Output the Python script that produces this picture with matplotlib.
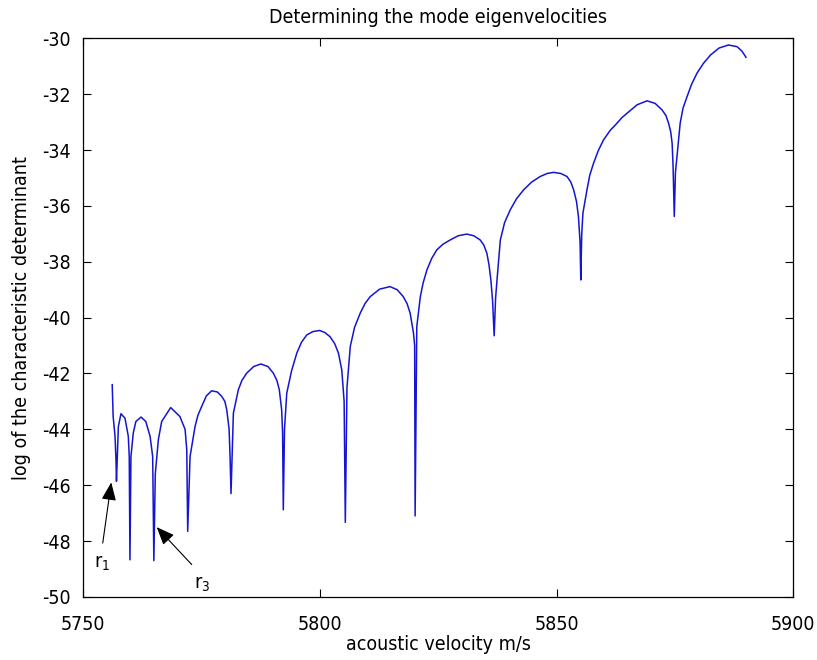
import matplotlib
matplotlib.use("Agg")
import matplotlib.pyplot as plt

# curve (acoustic velocity m/s, log of determinant), one row per arc
velocity = [5756.1, 5756.3, 5756.7, 5756.9, 5757.0,
            5757.4, 5757.95, 5758.8, 5759.5, 5759.7, 5759.85,
            5760.06, 5760.55, 5761.1, 5762.2, 5763.2, 5764.1, 5764.65, 5764.9,
            5765.2, 5765.85, 5766.55, 5768.45, 5770.4, 5771.5, 5771.85, 5772.05,
            5772.55, 5773.6, 5774.2, 5775.0, 5776.0, 5777.1, 5778.3, 5779.25, 5779.9, 5780.3, 5780.8, 5781.0, 5781.2,
            5781.5, 5781.7, 5782.75, 5783.5, 5784.5, 5786.0, 5787.5, 5789.0, 5790.15, 5790.9, 5791.4, 5791.9, 5792.1, 5792.25,
            5792.5, 5792.98, 5794.0, 5795.1, 5796.1, 5797.2, 5798.5, 5799.9, 5801.0, 5802.1, 5803.1, 5803.9, 5804.6, 5805.1, 5805.35,
            5805.7, 5806.4, 5807.3, 5808.5, 5809.5, 5810.6, 5812.6, 5814.8, 5816.3, 5817.6, 5818.4, 5819.05, 5819.75, 5820.0, 5820.1,
            5820.45, 5821.2, 5821.8, 5822.6, 5823.6, 5824.7, 5826.0, 5827.5, 5829.2, 5831.0, 5832.5, 5833.85, 5834.6, 5835.25,
            5835.7, 5836.1, 5836.45, 5836.8,
            5837.1, 5837.4, 5838.1, 5839.0, 5840.2, 5841.5, 5843.0, 5844.7, 5846.5, 5848.0, 5849.35, 5850.9, 5852.2, 5853.0,
            5853.6, 5854.2, 5854.6, 5854.95, 5855.1,
            5855.3, 5855.55, 5856.4, 5857.0, 5857.8, 5858.8, 5859.9, 5861.3, 5862.75, 5863.8, 5864.9, 5867.0, 5869.1, 5870.8,
            5872.3, 5873.1, 5873.65, 5874.1, 5874.4, 5874.6, 5874.85,
            5875.1, 5875.55, 5876.1, 5876.7, 5877.55, 5878.5, 5879.65, 5881.0, 5882.5, 5884.3, 5886.3, 5888.1, 5889.1, 5890.0]
log_det = [-42.4, -43.54, -44.25, -45.1, -45.86,
           -43.9, -43.44, -43.6, -44.25, -44.97, -48.67,
           -44.97, -44.13, -43.72, -43.56, -43.72, -44.25, -44.97, -48.7,
           -45.6, -44.37, -43.72, -43.22, -43.54, -44.0, -44.73, -47.65,
           -44.97, -43.9, -43.5, -43.18, -42.8, -42.62, -42.66, -42.82, -43.0, -43.3, -44.0, -44.97, -46.3,
           -44.6, -43.42, -42.58, -42.25, -41.99, -41.75, -41.66, -41.75, -41.99, -42.25, -42.58, -43.3, -44.13, -46.88,
           -44.0, -42.70, -41.9, -41.27, -40.88, -40.62, -40.5, -40.46, -40.53, -40.68, -40.93, -41.27, -41.87, -43.0, -47.33,
           -42.5, -41.03, -40.35, -39.84, -39.5, -39.25, -38.98, -38.89, -39.0, -39.25, -39.5, -39.84, -40.55, -41.0, -47.1,
           -40.32, -39.25, -38.75, -38.29, -37.88, -37.57, -37.37, -37.22, -37.07, -37.01, -37.07, -37.22, -37.4, -37.69,
           -38.1, -38.65, -39.36, -40.65,
           -39.3, -38.65, -37.22, -36.6, -36.14, -35.75, -35.43, -35.15, -34.95, -34.84, -34.8, -34.84, -34.95, -35.15,
           -35.43, -35.85, -36.38, -37.3, -38.65,
           -37.0, -36.26, -35.43, -34.9, -34.47, -34.02, -33.64, -33.3, -33.04, -32.84, -32.68, -32.38, -32.24, -32.33,
           -32.57, -32.77, -33.04, -33.35, -33.76, -34.59, -36.38,
           -34.8, -34.0, -33.04, -32.5, -32.09, -31.65, -31.25, -30.9, -30.6, -30.35, -30.24, -30.3, -30.45, -30.68]

x_ticks = [5750, 5800, 5850, 5900]
y_ticks = list(range(-50, -29, 2))

# arrows: (subscript, tail x, tail y, head x, head y, label x, label y)
roots = [("1", 5754.1, -48.07, 5755.9, -45.9, 5752.3, -48.8),
         ("3", 5772.9, -48.84, 5765.5, -47.5, 5773.4, -49.55)]

plt.rcParams['font.family'] = ['DejaVu Sans']
plt.rcParams['font.stretch'] = 'condensed'
plt.rcParams['axes.unicode_minus'] = False

fig = plt.figure(figsize=(8.17, 6.60), dpi=100)
ax = fig.add_axes([0.102, 0.0955, 0.869, 0.8465])

ax.plot(velocity, log_det, color='#1414d2', lw=1.1)

for sub, tx, ty, hx, hy, lx, ly in roots:
    ax.annotate("", xy=(hx, hy), xytext=(tx, ty),
                arrowprops=dict(arrowstyle='-|>,head_length=1.1,head_width=0.45',
                                color='black', lw=0.8, shrinkA=0, shrinkB=0))
    ax.text(lx, ly, "r$_{\\mathregular{" + sub + "}}$", fontsize=14, ha='left', va='center')

ax.set_xlim(5750, 5900)
ax.set_ylim(-50, -30)
ax.set_xticks(x_ticks)
ax.set_yticks(y_ticks)
ax.tick_params(direction='in', length=6, width=0.8, top=True, right=True, labelsize=14)
ax.tick_params(axis='x', pad=13)
ax.tick_params(axis='y', pad=9)
for s in ax.spines.values():
    s.set_linewidth(0.9)

ax.set_title("Determining the mode eigenvelocities", fontsize=14, pad=11)
ax.set_xlabel("acoustic velocity m/s", fontsize=14, labelpad=1)
ax.set_ylabel("log of the characteristic determinant", fontsize=14, labelpad=8)

fig.savefig("out.png", dpi=100, facecolor='white')
